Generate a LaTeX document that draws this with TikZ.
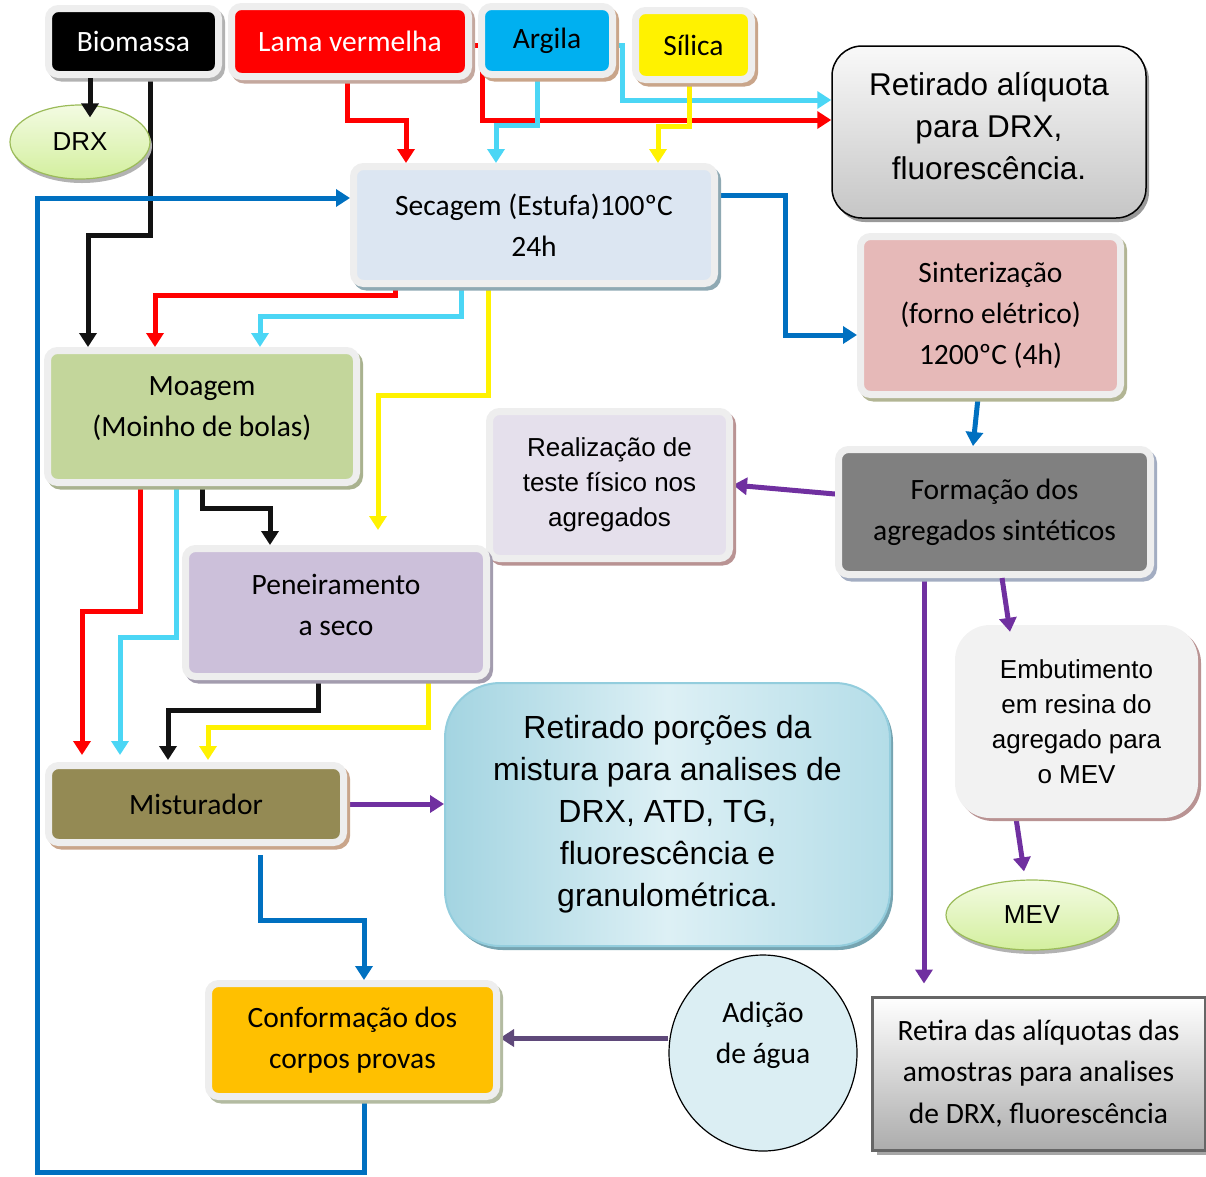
\documentclass[tikz,border=0pt]{standalone}
\usepackage{fontspec}
\setmainfont{Carlito}
\newfontfamily\arialfont{Liberation Sans}
\usepackage{xcolor}
\usepackage{tikz}
\usetikzlibrary{arrows.meta,shapes.geometric,backgrounds}

\definecolor{framegray}{HTML}{EEEEEE}
\definecolor{cyanline}{HTML}{4BD6F5}
\definecolor{blueline}{HTML}{0070C0}
\definecolor{purpleline}{HTML}{7030A0}
\definecolor{dpurple}{HTML}{5F497A}
\definecolor{argilafill}{HTML}{00B0F0}
\definecolor{secagemfill}{HTML}{DCE6F2}
\definecolor{sinterfill}{HTML}{E6B9B8}
\definecolor{formfill}{HTML}{808080}
\definecolor{realizfill}{HTML}{E5E0EC}
\definecolor{moagemfill}{HTML}{C3D69B}
\definecolor{peneirafill}{HTML}{CCC0DA}
\definecolor{misturfill}{HTML}{948A54}
\definecolor{conformfill}{HTML}{FFC000}
\definecolor{adicaofill}{HTML}{DBEEF3}
\definecolor{embutfill}{HTML}{F2F2F2}
\definecolor{ovaltop}{HTML}{F3FBE2}
\definecolor{ovalbot}{HTML}{D3EF9E}
\definecolor{ovalline}{HTML}{9BBB59}
\definecolor{porcA}{HTML}{A3D4E1}
\definecolor{porcB}{HTML}{DDF0F5}
\definecolor{porcC}{HTML}{B4DDE8}
\definecolor{porcline}{HTML}{93CDDD}
\definecolor{shpink}{HTML}{C4A89E}
\definecolor{shtan}{HTML}{C9A58A}
\definecolor{shblue}{HTML}{8FA9B3}
\definecolor{sholive}{HTML}{B2B594}
\definecolor{shslate}{HTML}{A3ADC2}
\definecolor{shrose}{HTML}{B99393}
\definecolor{shmoss}{HTML}{A9B28F}
\definecolor{shlilac}{HTML}{A39CAE}
\definecolor{shsage}{HTML}{B3BBA1}

\begin{document}
\begin{tikzpicture}[x=1pt, y=-1pt, >={Triangle[width=17pt,length=14pt]},
  every node/.style={inner sep=0pt, align=center},
  boxsize/.style 2 args={minimum width=#1pt, minimum height=#2pt},
  framed/.style={rectangle, draw=framegray, line width=7pt, rounded corners=10pt,
    font=\fontsize{29.5}{41}\selectfont,
    preaction={draw=#1, fill=#1, line width=7pt, transform canvas={shift={(3pt,-3.5pt)}}}},
  oval/.style={ellipse, draw=ovalline, line width=1.2pt, top color=ovaltop, bottom color=ovalbot,
    font=\arialfont\fontsize{26}{30}\selectfont,
    preaction={fill=black!30, transform canvas={shift={(2pt,-4pt)}}}},
  flow/.style={line width=5pt, ->}]
\useasboundingbox (0,0) rectangle (1206,1176);
\coordinate (loopcorner) at (37,1172);

\node[framed=black!30, boxsize={170}{66}, fill=black, text=white] (biomassa) at (133.5,41.5) {Biomassa};
\node[framed=shpink, boxsize={237}{70}, fill=red, text=white] (lama) at (350,41.5) {Lama vermelha};
\node[framed=shtan, boxsize={131}{68}, fill=argilafill] (argila) at (547,40.5) {Argila};
\node[framed=shtan, boxsize={116}{69}, fill=yellow] (silica) at (693.5,45) {Sílica};
\node[rectangle, rounded corners=30pt, draw=black, line width=1.5pt, top color=gray!5, bottom color=gray!45,
  boxsize={314}{172}, font=\arialfont\fontsize{31.5}{42}\selectfont,
  preaction={fill=black!40, transform canvas={shift={(3pt,-4pt)}}}] (aliquota) at (989,132)
  {Retirado alíquota\\para DRX,\\fluorescência.\\[-30pt]\mbox{}};
\node[oval, boxsize={140}{74}] (drx) at (80,142) {DRX};
\node[framed=shblue, boxsize={361}{117}, fill=secagemfill] (secagem) at (534,225) {Secagem (Estufa)100ºC\\24h};
\node[framed=sholive, boxsize={260}{158}, fill=sinterfill] (sinter) at (990.5,315.5)
  {Sinterização\\(forno elétrico)\\1200ºC (4h)};
\node[framed=shslate, boxsize={312}{125}, fill=formfill] (formacao) at (994.5,512)
  {Formação dos\\agregados sintéticos};
\node[framed=shrose, boxsize={240}{147}, fill=realizfill, font=\arialfont\fontsize{26}{35}\selectfont] (realiz) at (609.5,485)
  {Realização de\\teste físico nos\\agregados};
\node[framed=shmoss, boxsize={309}{132}, fill=moagemfill] (moagem) at (202,416.5)
  {Moagem\\(Moinho de bolas)\\[-22pt]\mbox{}};
\node[framed=shlilac, boxsize={301}{128}, fill=peneirafill] (peneira) at (336,612.5)
  {Peneiramento\\a seco\\[-25pt]\mbox{}};
\node[framed=shtan, boxsize={295}{77}, fill=misturfill] (mistur) at (196,804) {Misturador};
\node[rectangle, rounded corners=55pt, draw=porcline, line width=2pt, left color=porcA, right color=porcC, middle color=porcB,
  boxsize={445}{263}, font=\arialfont\fontsize{32}{42}\selectfont,
  preaction={fill=porcline!80!black, transform canvas={shift={(3pt,-4pt)}}}] (porcoes) at (667.5,814.5)
  {Retirado porções da\\mistura para analises de\\DRX, ATD, TG,\\fluorescência e\\granulométrica.};
\node[rectangle, rounded corners=35pt, fill=embutfill, boxsize={243}{193}, font=\arialfont\fontsize{26}{35}\selectfont,
  preaction={fill=shrose, transform canvas={shift={(3pt,-3pt)}}}] (embut) at (1076.5,721.5)
  {Embutimento\\em resina do\\agregado para\\o MEV};
\node[oval, boxsize={172}{70}] (mev) at (1032,915) {MEV};
\node[rectangle, draw=gray!80!black, line width=3pt, top color=white, bottom color=gray!65, boxsize={333}{153},
  font=\fontsize{29.5}{41.5}\selectfont,
  preaction={fill=black!35, transform canvas={shift={(5pt,-5pt)}}}] (retira) at (1038.5,1073.5)
  {Retira das alíquotas das\\amostras para analises\\de DRX, fluorescência};
\node[ellipse, draw=black, line width=1.2pt, fill=adicaofill, boxsize={188}{196},
  font=\fontsize{29.5}{41}\selectfont] (adicao) at (763,1053) {Adição\\de água\\\mbox{}};
\node[framed=shsage, boxsize={288}{113}, fill=conformfill] (conform) at (352.5,1040) {Conformação dos\\corpos provas};

\begin{scope}[on background layer]
\draw[flow, red] ([yshift=-3.5pt]lama.east) -- ++(10,0) |- ([yshift=12pt]aliquota.west);
\draw[flow, red] ([xshift=-3pt]lama.south) -- ++(0,40) -| ([xshift=-128pt]secagem.north);
\draw[flow, cyanline] ([yshift=-4.5pt]argila.east) -- ++(6,0) |- ([yshift=32pt]aliquota.west);
\draw[flow, cyanline] ([xshift=-10pt]argila.south) -- ++(0,47) -| ([xshift=-38pt]secagem.north);
\draw[flow, yellow] ([xshift=-4.5pt]silica.south) -- ++(0,43) -| ([xshift=124pt]secagem.north);
\draw[flow, black!93] ([xshift=16.5pt]biomassa.south) -- ++(0,157) -| ([xshift=-114pt]moagem.north);
\draw[flow, blueline] ([xshift=11.5pt]conform.south) |- (loopcorner) |- ([yshift=27pt]secagem.west);
\draw[flow, blueline] ([yshift=30pt]secagem.east) -- ++(67,0) |- ([yshift=-19.5pt]sinter.west);
\draw[flow, blueline] ([xshift=-12.5pt]sinter.south) -- ([xshift=-21.5pt]formacao.north);
\draw[flow, purpleline] ([yshift=18pt]formacao.west) -- (realiz.east);
\draw[flow, purpleline] ([xshift=-70.5pt]formacao.south) -- ([xshift=-114.5pt,yshift=12pt]retira.north);
\draw[flow, purpleline] ([xshift=-60.5pt]embut.south) -- ([xshift=-8pt,yshift=8pt]mev.north);
\draw[flow, purpleline] (mistur.east) -- ([yshift=10.5pt]porcoes.west);
\draw[flow, dpurple] ([yshift=15pt]adicao.west) -- ([yshift=2pt]conform.east);
\draw[flow, blueline, shorten <=9pt] ([xshift=64pt]mistur.south) -- ++(0,74) -| ([xshift=11.5pt]conform.north);
\draw[flow, red] ([xshift=-139pt]secagem.south) -- ++(0,8) -| ([xshift=-47pt]moagem.north);
\draw[flow, cyanline] ([xshift=-73pt]secagem.south) -- ++(0,29) -| ([xshift=58pt]moagem.north);
\draw[flow, yellow] ([xshift=-46pt]secagem.south) -- ++(0,108) -| ([xshift=42pt,yshift=15pt]peneira.north);
\draw[flow, red] ([xshift=-62pt]moagem.south) -- ++(0,125) -| ([xshift=-114pt,yshift=7pt]mistur.north);
\draw[flow, cyanline] ([xshift=-26pt]moagem.south) -- ++(0,151) -| ([xshift=-76pt,yshift=7pt]mistur.north);
\draw[flow, black!93] (moagem.south) -- ++(0,22) -| ([xshift=-66pt]peneira.north);
\draw[flow, black!93] ([xshift=-18pt]peneira.south) -- ++(0,30) -| ([xshift=-28pt,yshift=2pt]mistur.north);
\draw[flow, yellow] ([xshift=92pt]peneira.south) -- ++(0,47) -| ([xshift=12pt,yshift=2pt]mistur.north);
\end{scope}
\draw[flow, black!93] ([xshift=-43.5pt]biomassa.south) -- ([xshift=10pt,yshift=-13pt]drx.north);
\draw[flow, purpleline] ([xshift=7.5pt]formacao.south) -- ([xshift=-66.5pt,yshift=-7pt]embut.north);
\end{tikzpicture}
\end{document}
